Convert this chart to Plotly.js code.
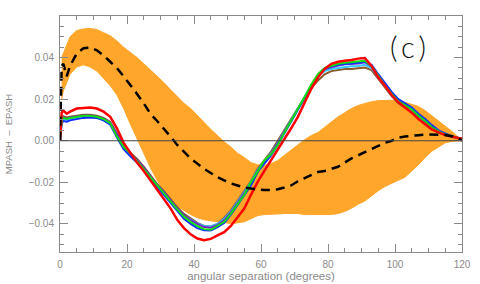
<!DOCTYPE html>
<html><head><meta charset="utf-8">
<script src="https://cdn.plot.ly/plotly-3.0.1.min.js"></script>
<style>html,body{margin:0;padding:0;background:#fff}</style>
</head><body>
<div id="chart" style="width:480px;height:284px"></div>
<script>
const deg = [0,0.5,1,2,3,5,7,9,11,13,15,17,19,21,23,25,27,29,31,33,35,37,39,41,43,45,47,49,51,53,55,57,59,61,63,65,67,69,71,73,75,77,79,81,83,85,87,89,91,93,95,97,99,101,103,105,107,109,111,113,115,117,119,120];

const bandDeg = [0.5,1,2,3,5,7,9,11,13,15,17,19,21,23,25,27,29,31,33,35,37,39,41,43,45,47,49,51,53,55,57,59,61,63,65,67,69,71,73,75,77,79,81,83,85,87,89,91,93,95,97,99,101,103,105,107,109,111,113,115,117,119,120];
const bandUpper = [0.040,0.042,0.046,0.050,0.053,0.0538,0.054,0.0535,0.052,0.0505,0.048,0.045,0.0425,0.040,0.037,0.034,0.031,0.028,0.0245,0.021,0.018,0.0155,0.012,0.009,0.0055,0.0025,-0.0005,-0.003,-0.006,-0.008,-0.0105,-0.0115,-0.0118,-0.011,-0.0095,-0.007,-0.0045,-0.002,0.0005,0.0025,0.004,0.0065,0.009,0.0115,0.0135,0.0155,0.017,0.018,0.0188,0.0193,0.0195,0.0195,0.019,0.0185,0.0175,0.0165,0.0145,0.012,0.0095,0.007,0.0045,0.0015,0];
const bandLower = [0.020,0.024,0.028,0.032,0.0355,0.0365,0.0355,0.0335,0.030,0.0265,0.022,0.0155,0.008,0.001,-0.006,-0.013,-0.019,-0.024,-0.028,-0.0315,-0.0335,-0.0355,-0.037,-0.038,-0.0385,-0.039,-0.0395,-0.0398,-0.0395,-0.039,-0.0375,-0.036,-0.0355,-0.0355,-0.0352,-0.035,-0.035,-0.035,-0.0355,-0.0355,-0.0357,-0.0357,-0.0355,-0.035,-0.034,-0.0325,-0.0305,-0.029,-0.0265,-0.024,-0.022,-0.0205,-0.019,-0.0175,-0.0145,-0.0115,-0.008,-0.005,-0.003,-0.001,-0.0003,0,0];

const meanVal = [0,0.036,0.037,0.031,0.036,0.042,0.0445,0.0448,0.0435,0.041,0.038,0.035,0.031,0.027,0.0225,0.018,0.013,0.0095,0.006,0.002,-0.002,-0.0055,-0.0085,-0.011,-0.0135,-0.0155,-0.0175,-0.019,-0.0205,-0.0215,-0.0225,-0.023,-0.0235,-0.0237,-0.0237,-0.0233,-0.0225,-0.0215,-0.0195,-0.018,-0.0165,-0.015,-0.0145,-0.0135,-0.0125,-0.0105,-0.0085,-0.007,-0.0055,-0.004,-0.0025,-0.001,0,0.0015,0.002,0.0025,0.0027,0.003,0.003,0.003,0.0028,0.0022,0.0012,0];

const redVal = [0,0.0135,0.0145,0.013,0.014,0.0155,0.0158,0.016,0.0155,0.014,0.0115,0.006,-0.001,-0.006,-0.0105,-0.0145,-0.019,-0.023,-0.0275,-0.0325,-0.038,-0.042,-0.045,-0.047,-0.0478,-0.0472,-0.0455,-0.044,-0.041,-0.037,-0.0326,-0.026,-0.0198,-0.0145,-0.0095,-0.004,0.001,0.006,0.0115,0.018,0.025,0.0305,0.0345,0.037,0.038,0.0385,0.0388,0.0395,0.0398,0.036,0.0305,0.0265,0.022,0.0185,0.016,0.0135,0.0105,0.008,0.0055,0.004,0.0028,0.002,0.0013,0.001];
const greenVal = [0,0.0095,0.011,0.0105,0.011,0.0115,0.012,0.012,0.0115,0.0105,0.0085,0.002,-0.003,-0.006,-0.0095,-0.0135,-0.0175,-0.0215,-0.025,-0.029,-0.033,-0.0365,-0.039,-0.041,-0.0425,-0.0428,-0.041,-0.039,-0.035,-0.0305,-0.026,-0.020,-0.0145,-0.0095,-0.0065,-0.002,0.004,0.0095,0.015,0.021,0.027,0.032,0.035,0.036,0.037,0.0375,0.0378,0.038,0.0385,0.036,0.031,0.0265,0.0225,0.019,0.017,0.015,0.012,0.0095,0.0065,0.0045,0.003,0.002,0.0013,0.001];
const blueVal = [0,0.0085,0.0095,0.0092,0.0098,0.0105,0.011,0.0112,0.011,0.0098,0.0078,0.0015,-0.004,-0.0075,-0.0105,-0.014,-0.0185,-0.0225,-0.026,-0.030,-0.034,-0.0375,-0.040,-0.042,-0.043,-0.0432,-0.0415,-0.0395,-0.0355,-0.031,-0.0265,-0.0215,-0.015,-0.011,-0.007,-0.002,0.0035,0.009,0.0145,0.0205,0.0265,0.0315,0.0345,0.0358,0.0365,0.0368,0.037,0.0375,0.038,0.0365,0.032,0.0275,0.0235,0.020,0.018,0.016,0.013,0.0105,0.0075,0.005,0.0035,0.0022,0.0014,0.001];
const cyanVal = [0,0.0095,0.0105,0.010,0.0105,0.011,0.0115,0.0115,0.011,0.010,0.008,0.0025,-0.0035,-0.007,-0.010,-0.0135,-0.0178,-0.0218,-0.0252,-0.029,-0.0328,-0.036,-0.038,-0.0398,-0.041,-0.0412,-0.040,-0.0375,-0.034,-0.0295,-0.025,-0.020,-0.014,-0.0098,-0.006,-0.001,0.0045,0.0098,0.0152,0.021,0.0265,0.031,0.0335,0.0345,0.035,0.0355,0.0358,0.036,0.0365,0.035,0.0305,0.026,0.022,0.0185,0.0165,0.0145,0.0115,0.009,0.0062,0.0043,0.0029,0.0019,0.0012,0.001];
const purpleVal = [0,0.010,0.0112,0.0107,0.0112,0.0117,0.0122,0.0122,0.0117,0.0107,0.0087,0.0032,-0.0028,-0.0062,-0.0092,-0.0128,-0.0172,-0.0212,-0.0246,-0.0285,-0.0325,-0.0358,-0.0382,-0.040,-0.0415,-0.0418,-0.0405,-0.0382,-0.0345,-0.030,-0.0255,-0.0205,-0.0142,-0.0102,-0.0063,-0.0012,0.0043,0.0098,0.0153,0.0212,0.027,0.0318,0.0345,0.0355,0.0362,0.0368,0.037,0.0372,0.0378,0.0358,0.031,0.0265,0.0225,0.019,0.017,0.015,0.012,0.0095,0.0066,0.0046,0.003,0.002,0.0013,0.001];
const brownVal = [0,0.0105,0.0118,0.0112,0.0116,0.012,0.0125,0.0125,0.012,0.011,0.009,0.0035,-0.0025,-0.0058,-0.0088,-0.0125,-0.0168,-0.0208,-0.0242,-0.028,-0.032,-0.0352,-0.0375,-0.0395,-0.041,-0.0412,-0.040,-0.037,-0.0335,-0.029,-0.0245,-0.0195,-0.0135,-0.0092,-0.0052,0.0,0.0055,0.0105,0.0155,0.0205,0.0255,0.029,0.032,0.0335,0.034,0.0345,0.0345,0.0348,0.0352,0.034,0.0298,0.0255,0.0215,0.018,0.016,0.014,0.011,0.0085,0.0058,0.004,0.0027,0.0018,0.0012,0.001];

const xTicks = [0,20,40,60,80,100,120];
const yTicks = [-0.04,-0.02,0.00,0.02,0.04];
const xTickText = ['0','20','40','60','80','100','120'];
const yTickText = ['\u22120.04','\u22120.02','0.00','0.02','0.04'];

const ORANGE = '#FFA62B';
const traces = [
  {x: bandDeg, y: bandLower, mode:'lines', line:{color:ORANGE, width:1}, hoverinfo:'skip', showlegend:false},
  {x: bandDeg, y: bandUpper, mode:'lines', line:{color:ORANGE, width:1}, fill:'tonexty', fillcolor:ORANGE, hoverinfo:'skip', showlegend:false},
  {x: deg, y: brownVal, mode:'lines', line:{color:'#8B5A2B', width:2}},
  {x: deg, y: cyanVal, mode:'lines', line:{color:'#35C8FF', width:2}},
  {x: deg, y: purpleVal, mode:'lines', line:{color:'#7A1FC8', width:2}},
  {x: deg, y: blueVal, mode:'lines', line:{color:'#1030FF', width:2}},
  {x: deg, y: greenVal, mode:'lines', line:{color:'#10E010', width:2}},
  {x: deg, y: redVal, mode:'lines', line:{color:'#FF0000', width:2.5}},
  {x: deg, y: meanVal, mode:'lines', line:{color:'#000000', width:2.5, dash:'9px,6px'}}
];

const FONT = 'Liberation Sans, Arial, sans-serif';
const GREY = '#8a8a8a';
const axisCommon = {
  showline:true, linecolor:GREY, linewidth:1, mirror:'ticks',
  ticks:'inside', ticklen:8, tickcolor:GREY, tickwidth:1,
  showgrid:false, zeroline:false, ticklabelstandoff:3,
  tickfont:{family:FONT, size:10, color:GREY}
};

const layout = {
  width:480, height:284,
  margin:{l:60, r:18, t:16, b:32},
  paper_bgcolor:'#fff', plot_bgcolor:'#fff',
  showlegend:false,
  xaxis: Object.assign({}, axisCommon, {
    range:[0,120], tickvals:xTicks, ticktext:xTickText,
    minor:{dtick:5, tick0:0, ticks:'inside', ticklen:4, tickcolor:GREY, showgrid:false},
    title:{text:'angular separation (degrees)', standoff:2,
      font:{family:FONT, size:11.5, color:GREY}}
  }),
  yaxis: Object.assign({}, axisCommon, {
    range:[-0.0535, 0.06], tickvals:yTicks, ticktext:yTickText,
    minor:{dtick:0.005, tick0:0, ticks:'inside', ticklen:4, tickcolor:GREY, showgrid:false},
    title:{text:'MPASH\u00A0\u00A0\u2013\u00A0\u00A0EPASH', standoff:14,
      font:{family:FONT, size:9.5, color:GREY}}
  }),
  shapes:[{type:'line', xref:'paper', x0:0, x1:1, yref:'y', y0:0, y1:0, layer:'above',
    line:{color:'#444', width:1}}],
  annotations:[{text:'(\u2009c\u2009)', xref:'paper', yref:'paper', x:0.866, y:0.869, xanchor:'center', yanchor:'middle', showarrow:false,
    font:{family:'Lato, DejaVu Sans, sans-serif', size:29, weight:300, color:'#111'}}]
};

Plotly.newPlot('chart', traces, layout, {staticPlot:true, displayModeBar:false});
</script>
</body></html>
